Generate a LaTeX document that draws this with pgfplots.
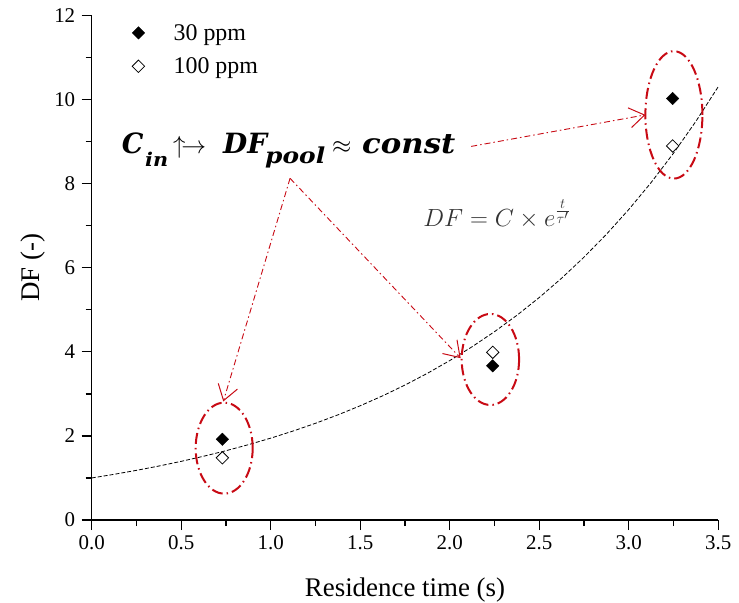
\documentclass[border=0pt]{standalone}
\usepackage{pgfplots}
\pgfplotsset{compat=1.18}
\usepackage{fontspec}
\setmainfont{Liberation Serif}
\newfontfamily\formfont{DejaVu Serif}
\usetikzlibrary{arrows.meta}
\definecolor{annred}{RGB}{200,10,20}

\begin{document}
\begin{tikzpicture}
\useasboundingbox (-91.7bp,-83bp) rectangle (647.3bp,520bp);
\begin{axis}[
  at={(0,0)}, anchor=south west, scale only axis,
  width=626.6bp, height=504.3bp,
  xmin=0, xmax=3.5, ymin=0, ymax=12,
  axis x line*=bottom, axis y line*=left,
  axis line style={-, line width=1.2bp},
  xtick={0,0.5,1,1.5,2,2.5,3,3.5}, minor x tick num=1,
  xticklabels={0.0,0.5,1.0,1.5,2.0,2.5,3.0,3.5},
  ytick={0,2,4,6,8,10,12}, minor y tick num=1,
  yticklabels={0,2,4,6,8,10,12},
  tick align=outside,
  major tick length=10bp, minor tick length=6bp,
  every tick/.style={line width=1.2bp, black},
  ticklabel style={font=\fontsize{21}{24}\selectfont, text=black},
  xticklabel style={yshift=-2bp},
  yticklabel style={xshift=-3bp},
  xlabel={Residence time (s)}, ylabel={DF (-)},
  label style={font=\fontsize{27}{30}\selectfont},
  xlabel style={at={(axis description cs:0.5,-0.152)}, anchor=base},
  ylabel style={at={(axis description cs:-0.084,0.5)}, anchor=base},
  clip=false,
  legend style={draw=none, fill=none, at={(axis cs:0.225,11.85)}, anchor=north west,
    font=\fontsize{24}{28}\selectfont, row sep=12bp, inner sep=0pt},
  legend cell align=left,
  legend image code/.code={\draw[#1] plot coordinates {(0bp,0bp)};},
]
\addplot[black, line width=0.8bp, dash pattern=on 4bp off 2bp, forget plot] coordinates {
(0,1.000) (0.125,1.0869) (0.25,1.1814) (0.375,1.2840) (0.5,1.3956) (0.625,1.5169)
(0.75,1.6487) (0.875,1.7919) (1.0,1.9477) (1.125,2.1170) (1.25,2.3010) (1.375,2.5009)
(1.5,2.7183) (1.625,2.9545) (1.75,3.2113) (1.875,3.4903) (2.0,3.7937) (2.125,4.1233)
(2.25,4.4817) (2.375,4.8710) (2.5,5.2945) (2.625,5.7546) (2.75,6.2547) (2.875,6.7983)
(3.0,7.3891) (3.125,8.0312) (3.25,8.7291) (3.375,9.4877) (3.5,10.3122)};
\addplot[only marks, mark=square*, mark size=4.4bp, mark options={rotate=45, fill=black, draw=black}] coordinates {
(0.73,1.92) (2.24,3.67) (3.245,10.03)};
\addlegendentry{\hspace{27bp}30 ppm}
\addplot[only marks, mark=square*, mark size=4.4bp, mark options={rotate=45, fill=white, draw=black, line width=0.8bp}] coordinates {
(0.73,1.48) (2.24,3.99) (3.245,8.90)};
\addlegendentry{\hspace{27bp}100 ppm}

\draw[annred, line width=2bp, dash pattern=on 11bp off 4bp on 1.5bp off 4bp] (axis cs:0.74,1.71) ellipse [x radius=28.5bp, y radius=45.5bp];
\draw[annred, line width=2bp, dash pattern=on 11bp off 4bp on 1.5bp off 4bp] (axis cs:2.227,3.82) ellipse [x radius=28.7bp, y radius=45.5bp];
\draw[annred, line width=2bp, dash pattern=on 11bp off 4bp on 1.5bp off 4bp] (axis cs:3.252,9.64) ellipse [x radius=28.5bp, y radius=63.7bp];

\draw[annred, line width=0.9bp, dash pattern=on 6bp off 3bp on 1.5bp off 3bp, -{Straight Barb[length=15bp,width=20bp,line width=1bp]}] (axis cs:2.12,8.89) -- (axis cs:3.093,9.64);
\draw[annred, line width=0.9bp, dash pattern=on 6bp off 3bp on 1.5bp off 3bp, -{Straight Barb[length=15bp,width=20bp,line width=1bp]}] (axis cs:1.108,8.13) -- (axis cs:0.735,2.82);
\draw[annred, line width=0.9bp, dash pattern=on 6bp off 3bp on 1.5bp off 3bp, -{Straight Barb[length=15bp,width=20bp,line width=1bp]}] (axis cs:1.108,8.13) -- (axis cs:2.061,3.85);

\tikzset{fpart/.style={anchor=base west, inner sep=0pt}}
\node[fpart, font=\formfont\fontsize{28}{30}\selectfont\bfseries\itshape] at (axis cs:0.1676,8.731) {\resizebox{21.6bp}{\height}{C}};
\node[fpart, font=\formfont\fontsize{19}{22}\selectfont\bfseries\itshape] at (axis cs:0.2978,8.40) {\resizebox{23bp}{\height}{in}};
\node[fpart, font=\fontsize{25}{26}\selectfont] at (axis cs:0.4542,8.731) {$\uparrow\!\rightarrow$};
\node[fpart, font=\formfont\fontsize{28}{30}\selectfont\bfseries\itshape] at (axis cs:0.7335,8.731) {\resizebox{44bp}{\height}{DF}};
\node[fpart, font=\formfont\fontsize{22}{24}\selectfont\bfseries\itshape] at (axis cs:0.9682,8.493) {\resizebox{60bp}{\height}{pool}};
\node[fpart, font=\fontsize{27}{30}\selectfont] at (axis cs:1.3425,8.731) {$\approx$};
\node[fpart, font=\formfont\fontsize{28}{30}\selectfont\bfseries\itshape] at (axis cs:1.5100,8.731) {\resizebox{93bp}{\height}{const}};

\node[anchor=base west, inner sep=0pt, text=black!80, font=\fontsize{27}{30}\selectfont] at (axis cs:1.851,6.98) {$DF = C\times e^{\frac{t}{\tau'}}$};
\end{axis}
\end{tikzpicture}
\end{document}
